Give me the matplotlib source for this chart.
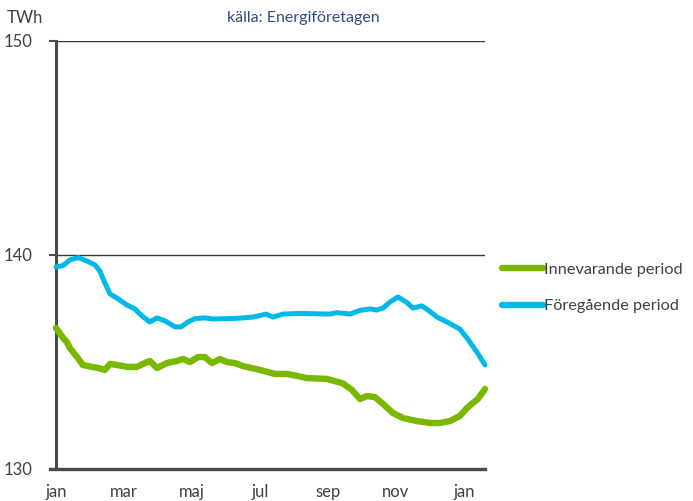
import matplotlib
matplotlib.use("Agg")
import matplotlib.pyplot as plt

plt.rcParams['font.family'] = ['Lato', 'DejaVu Sans']

# x positions in months from January (0 = jan, 12 = jan next year)
prev_x = [0, 0.21, 0.41, 0.65, 0.91, 1.15, 1.29, 1.44, 1.59, 1.79, 2.09, 2.32, 2.53,
          2.76, 2.97, 3.21, 3.50, 3.68, 3.88, 4.09, 4.38, 4.62, 5.12, 5.50, 5.79, 6.0,
          6.18, 6.38, 6.68, 7.18, 8.06, 8.26, 8.65, 8.94, 9.24, 9.44, 9.62, 9.82, 10.06,
          10.32, 10.50, 10.76, 10.94, 11.21, 11.50, 11.88, 12.09, 12.38, 12.62]
prev_v = [139.44, 139.51, 139.77, 139.88, 139.72, 139.53, 139.25, 138.69, 138.18, 137.99,
          137.66, 137.48, 137.15, 136.87, 137.06, 136.92, 136.64, 136.64, 136.87, 137.03,
          137.06, 137.01, 137.03, 137.06, 137.10, 137.17, 137.24, 137.10, 137.24, 137.27,
          137.24, 137.31, 137.24, 137.41, 137.48, 137.43, 137.52, 137.80, 138.04, 137.78,
          137.52, 137.62, 137.43, 137.10, 136.87, 136.54, 136.12, 135.47, 134.86]

cur_x = [0, 0.21, 0.32, 0.41, 0.62, 0.79, 1.06, 1.24, 1.44, 1.59, 1.79, 2.12, 2.38, 2.68,
         2.76, 2.97, 3.26, 3.56, 3.74, 3.94, 4.18, 4.38, 4.59, 4.82, 5.03, 5.26, 5.50, 6.0,
         6.44, 6.79, 7.09, 7.38, 7.97, 8.44, 8.71, 8.94, 9.15, 9.38, 9.62, 9.91, 10.21,
         10.62, 11.0, 11.29, 11.59, 11.88, 12.09, 12.26, 12.41, 12.62]
cur_v = [136.59, 136.12, 135.93, 135.65, 135.23, 134.86, 134.77, 134.72, 134.63, 134.91,
         134.86, 134.77, 134.77, 135.0, 135.05, 134.72, 134.95, 135.05, 135.14, 135.0,
         135.23, 135.23, 134.95, 135.14, 135.0, 134.95, 134.81, 134.63, 134.44, 134.44,
         134.35, 134.25, 134.21, 134.0, 133.69, 133.27, 133.41, 133.36, 133.04, 132.62,
         132.38, 132.24, 132.15, 132.15, 132.24, 132.48, 132.85, 133.08, 133.27, 133.74]

month_ticks = [0, 2, 4, 6, 8, 10, 12]
month_labels = ['jan', 'mar', 'maj', 'jul', 'sep', 'nov', 'jan']
y_ticks = [130, 140, 150]

series_names = ['Innevarande period', 'Föregående period']
green = '#7AB800'
blue = '#00B9E8'
gray = '#404040'

fig = plt.figure(figsize=(6.93, 5.01), dpi=100)
ax = fig.add_axes([56/693, 1 - 469/501, (485-56)/693, (469-41)/501])

ax.plot(cur_x, cur_v, color=green, lw=4.6, solid_capstyle='round',
        solid_joinstyle='round', clip_on=False, label=series_names[0], zorder=3)
ax.plot(prev_x, prev_v, color=blue, lw=3.6, solid_capstyle='round',
        solid_joinstyle='round', clip_on=False, label=series_names[1], zorder=3)

ax.set_xlim(0, 12.62)
ax.set_ylim(130, 150)
ax.set_yticks(y_ticks)
ax.set_xticks(month_ticks)
ax.set_xticklabels(month_labels)
for yv in [140, 150]:
    ax.axhline(yv, color='#3a3a3a', lw=1.0, zorder=1)

for s in ['top', 'right']:
    ax.spines[s].set_visible(False)
ax.spines['left'].set_color('#4a4a4a')
ax.spines['left'].set_linewidth(2.2)
ax.spines['bottom'].set_color('#4a4a4a')
ax.spines['bottom'].set_linewidth(2.4)
ax.spines['bottom'].set_bounds(-0.18, 12.62)

ax.tick_params(axis='y', direction='out', length=5, width=1.5, color='#4a4a4a',
               labelsize=12, labelcolor=gray, pad=12)
ax.tick_params(axis='x', length=0, labelsize=12, labelcolor=gray, pad=11)

fig.text(7/693, 1 - 18/501, 'TWh', fontsize=12, color=gray, va='center', ha='left')
fig.text(303/693, 1 - 18/501, 'källa: Energiföretagen', fontsize=11.5,
         color='#2B4F81', va='center', ha='center')

leg = ax.legend(loc='center left', bbox_to_anchor=(502/693, 1 - 288/501),
                bbox_transform=fig.transFigure, frameon=False, fontsize=11.7,
                handlelength=2.5, handletextpad=0.1, labelspacing=1.35,
                borderpad=0, borderaxespad=0)
for t in leg.get_texts():
    t.set_color(gray)
for h in leg.get_lines():
    h.set_linewidth(4.6)

fig.savefig('out.png', dpi=100)
